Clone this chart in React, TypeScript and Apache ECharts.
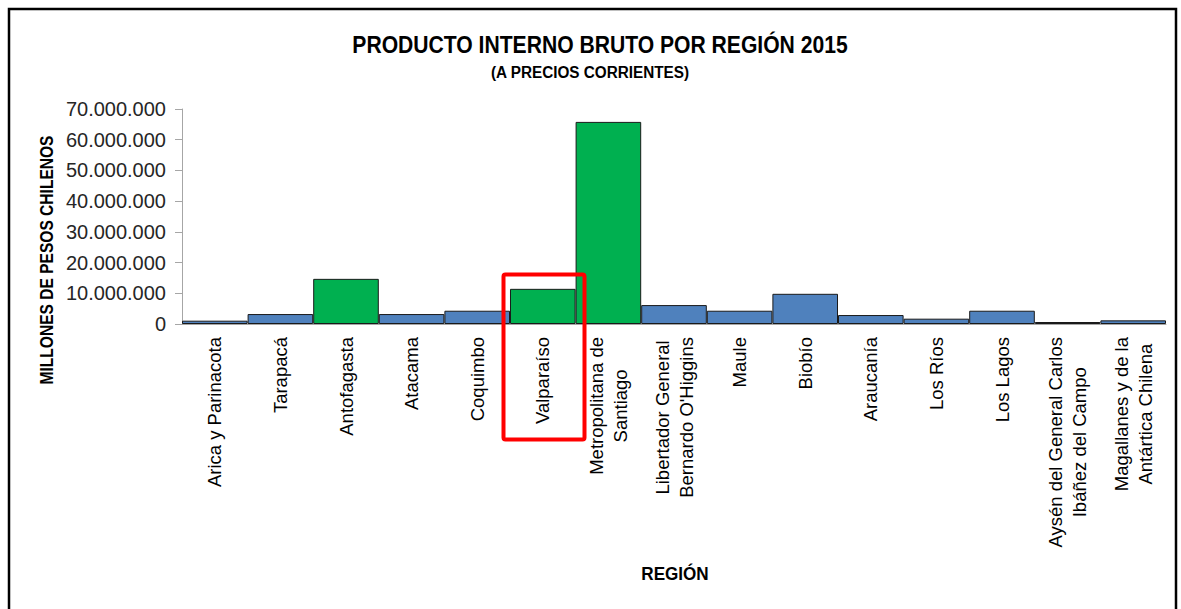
import React, { useEffect, useRef } from "react";
import * as echarts from "echarts";

const categories = [
  "Arica y Parinacota",
  "Tarapacá",
  "Antofagasta",
  "Atacama",
  "Coquimbo",
  "Valparaíso",
  "Metropolitana de\nSantiago",
  "Libertador General\nBernardo O'Higgins",
  "Maule",
  "Biobío",
  "Araucanía",
  "Los Ríos",
  "Los Lagos",
  "Aysén del General Carlos\nIbáñez del Campo",
  "Magallanes y de la\nAntártica Chilena",
];
const pib = [
  1080000, 3240000, 14700000, 3240000, 4320000, 11450000, 65800000, 6160000,
  4320000, 9830000, 2920000, 1730000, 4320000, 650000, 1190000,
];
const highlighted = ["Antofagasta", "Valparaíso", "Metropolitana de\nSantiago"];
const yTicks = { min: 0, max: 70000000, interval: 10000000 };

const titleText = "PRODUCTO INTERNO BRUTO POR REGIÓN 2015";
const subtitleText = "(A PRECIOS CORRIENTES)";
const yName = "MILLONES DE PESOS CHILENOS";
const xName = "REGIÓN";

const BLUE = "#4F81BD";
const GREEN = "#00B050";
const REG = "'Liberation Sans', Arial, sans-serif";

function fmt(v: number): string {
  const s = Math.round(v).toString();
  return s.replace(/\B(?=(\d{3})+(?!\d))/g, ".");
}

function boldText(
  text: string,
  x: number,
  y: number,
  size: number,
  sx: number,
  rotation = 0
) {
  return {
    type: "text",
    x,
    y,
    rotation,
    scaleX: sx,
    silent: true,
    style: {
      text,
      fontFamily: REG,
      fontWeight: "bold",
      fontSize: size,
      fill: "#000",
      align: "center",
      verticalAlign: "middle",
    },
  };
}

export default function App() {
  const ref = useRef<HTMLDivElement>(null);
  useEffect(() => {
    document.body.style.margin = "0";
    const chart = echarts.init(ref.current!, undefined, { renderer: "svg" });
    chart.setOption({
      animation: false,
      backgroundColor: "#ffffff",
      grid: { left: 182, right: 15, top: 109, height: 215, containLabel: false },
      xAxis: {
        type: "category",
        data: categories,
        axisLine: { lineStyle: { color: "#A6A6A6", width: 1 } },
        axisTick: { show: false },
        axisLabel: {
          interval: 0,
          rotate: 90,
          margin: 13,
          formatter: (v: string) =>
            v
              .split("\n")
              .map((l) => `{c|${l}}`)
              .join("\n"),
          rich: {
            c: {
              align: "center",
              fontSize: 18.5,
              lineHeight: 24,
              fontFamily: REG,
              color: "#000",
            },
          },
        },
      },
      yAxis: {
        type: "value",
        min: yTicks.min,
        max: yTicks.max,
        interval: yTicks.interval,
        splitLine: { show: false },
        axisLine: { show: true, lineStyle: { color: "#A6A6A6", width: 1 } },
        axisTick: { show: true, length: 7, lineStyle: { color: "#A6A6A6" } },
        axisLabel: {
          margin: 16,
          fontSize: 20,
          fontFamily: REG,
          color: "#262626",
          formatter: (v: number) => fmt(v),
        },
      },
      series: [
        {
          type: "bar",
          barCategoryGap: "0%",
          data: pib.map((v, i) => ({
            value: v,
            itemStyle: {
              color: highlighted.includes(categories[i]) ? GREEN : BLUE,
              borderColor: "#1a1a1a",
              borderWidth: 1,
            },
          })),
        },
      ],
      graphic: [
        {
          type: "rect",
          shape: { x: 9, y: 9, width: 1167, height: 620 },
          style: { fill: "none", stroke: "#000", lineWidth: 2.5 },
          silent: true,
        },
        boldText(titleText, 600, 45, 24, 0.88),
        boldText(subtitleText, 590, 72, 17, 0.9),
        boldText(yName, 47, 260, 17.5, 0.89, Math.PI / 2),
        boldText(xName, 675, 574, 19, 0.9),
        {
          type: "rect",
          shape: { x: 503.5, y: 274.5, width: 81, height: 165, r: 2 },
          style: { fill: "none", stroke: "#FF0000", lineWidth: 4 },
          z: 100,
        },
      ],
    });
    return () => chart.dispose();
  }, []);
  return <div ref={ref} style={{ width: 1181, height: 609 }} />;
}
